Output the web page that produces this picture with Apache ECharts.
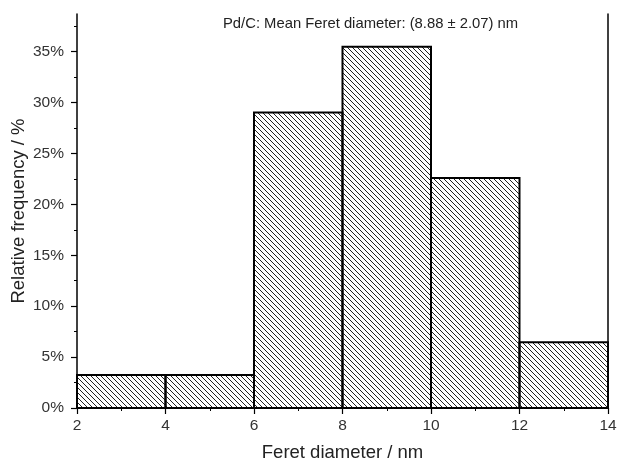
<!DOCTYPE html>
<html>
<head>
<meta charset="utf-8">
<script src="https://cdn.jsdelivr.net/npm/echarts@6/dist/echarts.min.js"></script>
<style>
  html, body { margin: 0; padding: 0; background: #fff; }
  #main { width: 617px; height: 462px; }
</style>
</head>
<body>
<div id="main"></div>
<script>
// bin edges (nm) and relative frequency (%)
const binStart = [2, 4, 6, 8, 10, 12];
const binEnd = [4, 6, 8, 10, 12, 14];
const freq = [3.23, 3.23, 29.03, 35.48, 22.58, 6.45];
const yTicks = [0, 5, 10, 15, 20, 25, 30, 35];
const titleText = 'Pd/C: Mean Feret diameter: (8.88 \u00b1 2.07) nm';

// hatch pattern "\\\\"
const hatch = (() => {
  const s = 5;
  const c = document.createElement('canvas');
  c.width = s; c.height = s;
  const ctx = c.getContext('2d');
  ctx.strokeStyle = '#222';
  ctx.lineWidth = 1;
  ctx.beginPath();
  ctx.moveTo(-1, -1); ctx.lineTo(s + 1, s + 1);
  ctx.moveTo(-1, s - 1); ctx.lineTo(1, s + 1);
  ctx.moveTo(s - 1, -1); ctx.lineTo(s + 1, 1);
  ctx.stroke();
  return c;
})();

const chart = echarts.init(document.getElementById('main'));
const font = 'Liberation Sans, Arial, sans-serif';

const option = {
  animation: false,
  title: {
    text: titleText,
    left: 218, top: 11,
    textStyle: { fontFamily: font, fontSize: 14.8, fontWeight: 'normal', color: '#222' }
  },
  grid: { left: 77, right: 9, top: 14, bottom: 54, containLabel: false, outerBoundsMode: 'none' },
  xAxis: {
    type: 'value', min: 2, max: 14, interval: 2,
    name: 'Feret diameter / nm', nameLocation: 'middle', nameGap: 35, nameMoveOverlap: false,
    nameTextStyle: { fontFamily: font, fontSize: 18.5, color: '#222' },
    axisLine: { lineStyle: { color: '#000', width: 1.5 } },
    axisTick: { length: 6, lineStyle: { color: '#000', width: 1.2 } },
    minorTick: { show: true, splitNumber: 2, length: 3, lineStyle: { color: '#000' } },
    axisLabel: { margin: 10, fontFamily: font, fontSize: 15.5, color: '#333' },
    splitLine: { show: false }
  },
  yAxis: [{
    type: 'value', min: 0, max: 38.7, interval: 5,
    name: 'Relative frequency / %', nameLocation: 'middle', nameGap: 49, nameMoveOverlap: false,
    nameTextStyle: { fontFamily: font, fontSize: 18.5, color: '#222' },
    axisLine: { show: true, lineStyle: { color: '#000', width: 1.5 } },
    axisTick: { length: 6, customValues: yTicks, lineStyle: { color: '#000', width: 1.2 } },
    minorTick: { show: true, splitNumber: 2, length: 3, lineStyle: { color: '#000' } },
    axisLabel: {
      margin: 13, fontFamily: font, fontSize: 15.5, color: '#333',
      customValues: yTicks,
      formatter: v => v + '%'
    },
    splitLine: { show: false }
  }, {
    type: 'value', min: 0, max: 38.7, position: 'right',
    axisLine: { show: true, lineStyle: { color: '#000', width: 1.5 } },
    axisTick: { show: false }, axisLabel: { show: false }, splitLine: { show: false }
  }],
  series: [{
    type: 'custom',
    data: binStart.map((s, i) => [s, binEnd[i], freq[i]]),
    encode: { x: [0, 1], y: 2 },
    renderItem: (params, api) => {
      const p0 = api.coord([api.value(0), api.value(2)]);
      const p1 = api.coord([api.value(1), 0]);
      return {
        type: 'rect',
        shape: { x: p0[0], y: p0[1], width: p1[0] - p0[0], height: p1[1] - p0[1] },
        style: { fill: { image: hatch, repeat: 'repeat' }, stroke: '#000', lineWidth: 2 }
      };
    }
  }]
};
chart.setOption(option);
</script>
</body>
</html>
